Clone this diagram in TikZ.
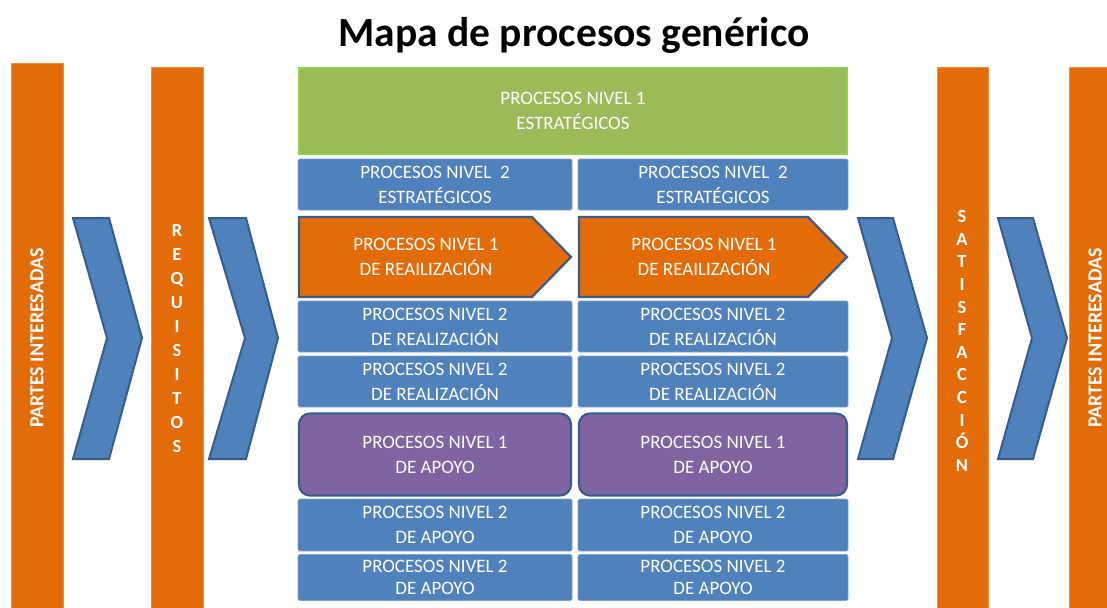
\documentclass[tikz,border=0pt]{standalone}
\usepackage{fontspec}
\setmainfont{Carlito}
\definecolor{orng}{HTML}{E36C09}
\definecolor{blu}{HTML}{4F81BD}
\definecolor{bluedge}{HTML}{385D8A}
\definecolor{grn}{HTML}{9BBB59}
\definecolor{grnedge}{HTML}{92D050}
\definecolor{purp}{HTML}{8064A2}
\begin{document}
\begin{tikzpicture}[x=1pt,y=-1pt,
  bar/.style={fill=orng,draw=orng!75!white,line width=0.8pt},
  chev/.style={fill=blu,draw=bluedge,line width=2pt,line join=miter},
  bfont/.style={text=white,align=center,font=\fontsize{19}{25}\selectfont},
  bbox/.style={bfont,rectangle,fill=blu,draw=blu!75!white,line width=0.6pt,rounded corners=1.5pt,inner sep=0pt},
  pent/.style={fill=orng,draw=bluedge,line width=2.2pt,line join=miter},
  ptxt/.style={bfont},
  pbox/.style={bfont,rectangle,fill=purp,draw=bluedge,line width=2.2pt,rounded corners=11pt,inner sep=0pt},
  gbox/.style={bfont,rectangle,fill=grn,draw=grnedge,line width=2.5pt,inner sep=0pt},
  vtxt/.style={text=white,font=\bfseries\fontsize{20}{24}\selectfont,rotate=90},
  stxt/.style={text=white,align=center,font=\bfseries\fontsize{18.5}{24}\selectfont}
]
\useasboundingbox (0,0) rectangle (1107,607);
\clip (0,0) rectangle (1107,607);
\fill[white] (0,0) rectangle (1107,607);

% title
\node[font=\bfseries\fontsize{41.5}{46}\selectfont,anchor=base] (title) at (574,47) {Mapa de procesos genérico};

% orange bars
\path[bar] (11,63) rectangle (63,612);
\path[bar] (151,67) rectangle (203,612);
\path[bar] (937,67) rectangle (988,612);
\path[bar] (1069,67) rectangle (1121,612);
\node[vtxt] (pi1) at (37,338) {PARTES INTERESADAS};
\node[vtxt] (pi2) at (1095,338) {PARTES INTERESADAS};
\node[stxt] (req) at (177,339) {R\\E\\Q\\U\\I\\S\\I\\T\\O\\S};
\node[stxt,font=\bfseries\fontsize{18.5}{22.6}\selectfont] (sat) at (962,341) {S\\A\\T\\I\\S\\F\\A\\C\\C\\I\\Ó\\N};

% chevrons
\path[chev] (73,218) -- (109,218) -- (142,338) -- (109,459) -- (73,459) -- (107,338) -- cycle;
\path[chev] (209,218) -- (246,218) -- (278,338) -- (246,459) -- (209,459) -- (245,338) -- cycle;
\path[chev] (858,218) -- (893,218) -- (927,338) -- (893,459) -- (858,459) -- (892,338) -- cycle;
\path[chev] (998,218) -- (1033,218) -- (1067,338) -- (1033,459) -- (998,459) -- (1032,338) -- cycle;

% green
\node[gbox,minimum width=548pt,minimum height=86pt] (g1) at (573,111) {PROCESOS NIVEL 1\\ESTRATÉGICOS};

% row 1
\node[bbox,minimum width=274pt,minimum height=51pt] (e2a) at (435,184.5) {PROCESOS NIVEL\ \ 2\\ESTRATÉGICOS};
\node[bbox,minimum width=270pt,minimum height=51pt] (e2b) at (713,184.5) {PROCESOS NIVEL\ \ 2\\ESTRATÉGICOS};

% pentagons
\path[pent] (299,217) -- (532,217) -- (571,257) -- (532,297) -- (299,297) -- cycle;
\path[pent] (579,217) -- (808,217) -- (847,257) -- (808,297) -- (579,297) -- cycle;
\node[ptxt] (r1a) at (426,256.5) {PROCESOS NIVEL 1\\DE REAILIZACIÓN};
\node[ptxt] (r1b) at (704,256.5) {PROCESOS NIVEL 1\\DE REAILIZACIÓN};

% realizacion level 2
\node[bbox,minimum width=274pt,minimum height=51pt] (r2a) at (435,326.5) {PROCESOS NIVEL 2\\DE REALIZACIÓN};
\node[bbox,minimum width=270pt,minimum height=51pt] (r2b) at (713,326.5) {PROCESOS NIVEL 2\\DE REALIZACIÓN};
\node[bbox,minimum width=274pt,minimum height=51pt] (r3a) at (435,381.5) {PROCESOS NIVEL 2\\DE REALIZACIÓN};
\node[bbox,minimum width=270pt,minimum height=51pt] (r3b) at (713,381.5) {PROCESOS NIVEL 2\\DE REALIZACIÓN};

% apoyo
\node[pbox,minimum width=272pt,minimum height=82pt] (a1a) at (435,454.5) {PROCESOS NIVEL 1\\DE APOYO};
\node[pbox,minimum width=268pt,minimum height=82pt] (a1b) at (713,454.5) {PROCESOS NIVEL 1\\DE APOYO};
\node[bbox,minimum width=274pt,minimum height=52pt] (a2a) at (435,525) {PROCESOS NIVEL 2\\DE APOYO};
\node[bbox,minimum width=270pt,minimum height=52pt] (a2b) at (713,525) {PROCESOS NIVEL 2\\DE APOYO};
\node[bbox,minimum width=274pt,minimum height=46pt,font=\fontsize{19}{22}\selectfont] (a3a) at (435,577.5) {PROCESOS NIVEL 2\\DE APOYO};
\node[bbox,minimum width=270pt,minimum height=46pt,font=\fontsize{19}{22}\selectfont] (a3b) at (713,577.5) {PROCESOS NIVEL 2\\DE APOYO};
\end{tikzpicture}
\end{document}
